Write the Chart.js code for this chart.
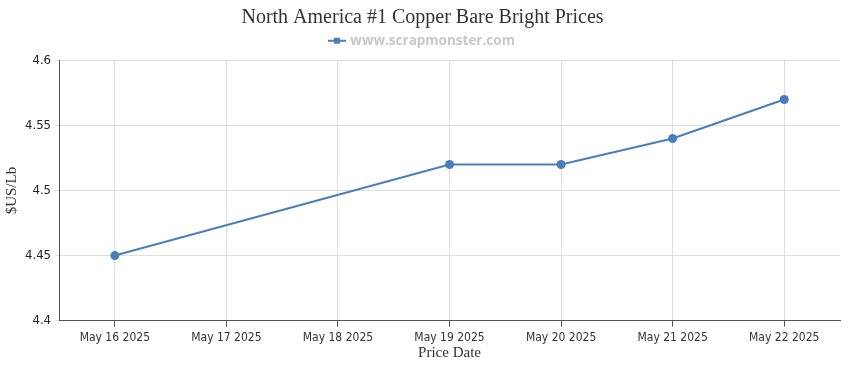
<!DOCTYPE html>
<html>
<head>
<meta charset="utf-8">
<script src="https://cdn.jsdelivr.net/npm/chart.js@4.4.1/dist/chart.umd.min.js"></script>
<style>
html,body{margin:0;padding:0;background:#fff;}
#wrap{width:850px;height:370px;}
</style>
</head>
<body>
<div id="wrap"><canvas id="c" width="850" height="370"></canvas></div>
<script>
const categories = ["May 16 2025","May 17 2025","May 18 2025","May 19 2025","May 20 2025","May 21 2025","May 22 2025"];
const priceValues = [4.45, null, null, 4.52, 4.52, 4.54, 4.57];
const seriesName = "www.scrapmonster.com";
const yTicks = [4.4, 4.45, 4.5, 4.55, 4.6];

const lineColor = "#4a7ebb";

// legend marker: line with square
const marker = document.createElement('canvas');
marker.width = 18; marker.height = 8;
(function(){
  const g = marker.getContext('2d');
  g.fillStyle = lineColor;
  g.fillRect(0, 3, 18, 2);
  g.fillRect(6, 1, 6, 6);
})();

const legendSpacer = {
  id: 'legendSpacer',
  beforeInit(chart) {
    const origFit = chart.legend.fit;
    chart.legend.fit = function() {
      origFit.bind(chart.legend)();
      this.height += 3;
    };
  }
};

new Chart(document.getElementById('c'), {
  type: 'line',
  plugins: [legendSpacer],
  data: {
    labels: categories,
    datasets: [{
      label: seriesName,
      data: priceValues,
      borderColor: lineColor,
      backgroundColor: lineColor,
      borderWidth: 2,
      pointRadius: 4.5,
      pointHoverRadius: 5,
      pointBackgroundColor: lineColor,
      pointBorderWidth: 0,
      pointStyle: 'circle',
      spanGaps: true,
      tension: 0
    }]
  },
  options: {
    responsive: false,
    animation: false,
    layout: { padding: { left: 5, right: 10, top: 2, bottom: 9 } },
    plugins: {
      title: {
        display: true,
        text: 'North America #1 Copper Bare Bright Prices',
        color: '#333',
        font: { family: '"Liberation Serif", "Times New Roman", serif', size: 20, weight: 'normal' },
        padding: { top: 4, bottom: 0 }
      },
      legend: {
        display: true,
        labels: {
          usePointStyle: true,
          pointStyle: marker,
          color: '#c8c8c8',
          font: { family: '"Open Sans", "DejaVu Sans", sans-serif', size: 13.5, weight: 'bold' },
          padding: 4,
          generateLabels: (chart) => [{
            text: seriesName,
            pointStyle: marker,
            fillStyle: lineColor,
            strokeStyle: lineColor,
            lineWidth: 0,
            datasetIndex: 0,
            hidden: false,
            fontColor: '#c8c8c8'
          }]
        }
      },
      tooltip: { enabled: false }
    },
    scales: {
      x: {
        type: 'category',
        offset: true,
        grid: { color: '#dedede', offset: false, tickLength: 6, tickColor: '#555' },
        border: { color: '#555', width: 1 },
        ticks: {
          color: '#333',
          font: { family: '"DejaVu Sans Condensed", Tahoma, sans-serif', size: 12 },
          maxRotation: 0, autoSkip: false, padding: 4
        },
        title: {
          display: true, text: 'Price Date', color: '#333',
          font: { family: '"Liberation Serif", serif', size: 15, lineHeight: 1 },
          padding: { top: -3, bottom: 0 }
        }
      },
      y: {
        min: 4.4, max: 4.6,
        afterBuildTicks: (axis) => { axis.ticks = yTicks.map(v => ({ value: v })); },
        grid: { color: '#dedede', tickLength: 4, tickColor: '#dedede' },
        border: { color: '#555', width: 1 },
        ticks: {
          color: '#222',
          font: { family: '"DejaVu Sans Condensed", Tahoma, sans-serif', size: 13 },
          padding: 4,
          callback: (v) => String(Number(Number(v).toFixed(2)))
        },
        title: {
          display: true, text: '$US/Lb', color: '#333',
          font: { family: '"Liberation Serif", serif', size: 15, lineHeight: 1 },
          padding: { top: 0, bottom: 1 }
        }
      }
    }
  }
});
</script>
</body>
</html>
